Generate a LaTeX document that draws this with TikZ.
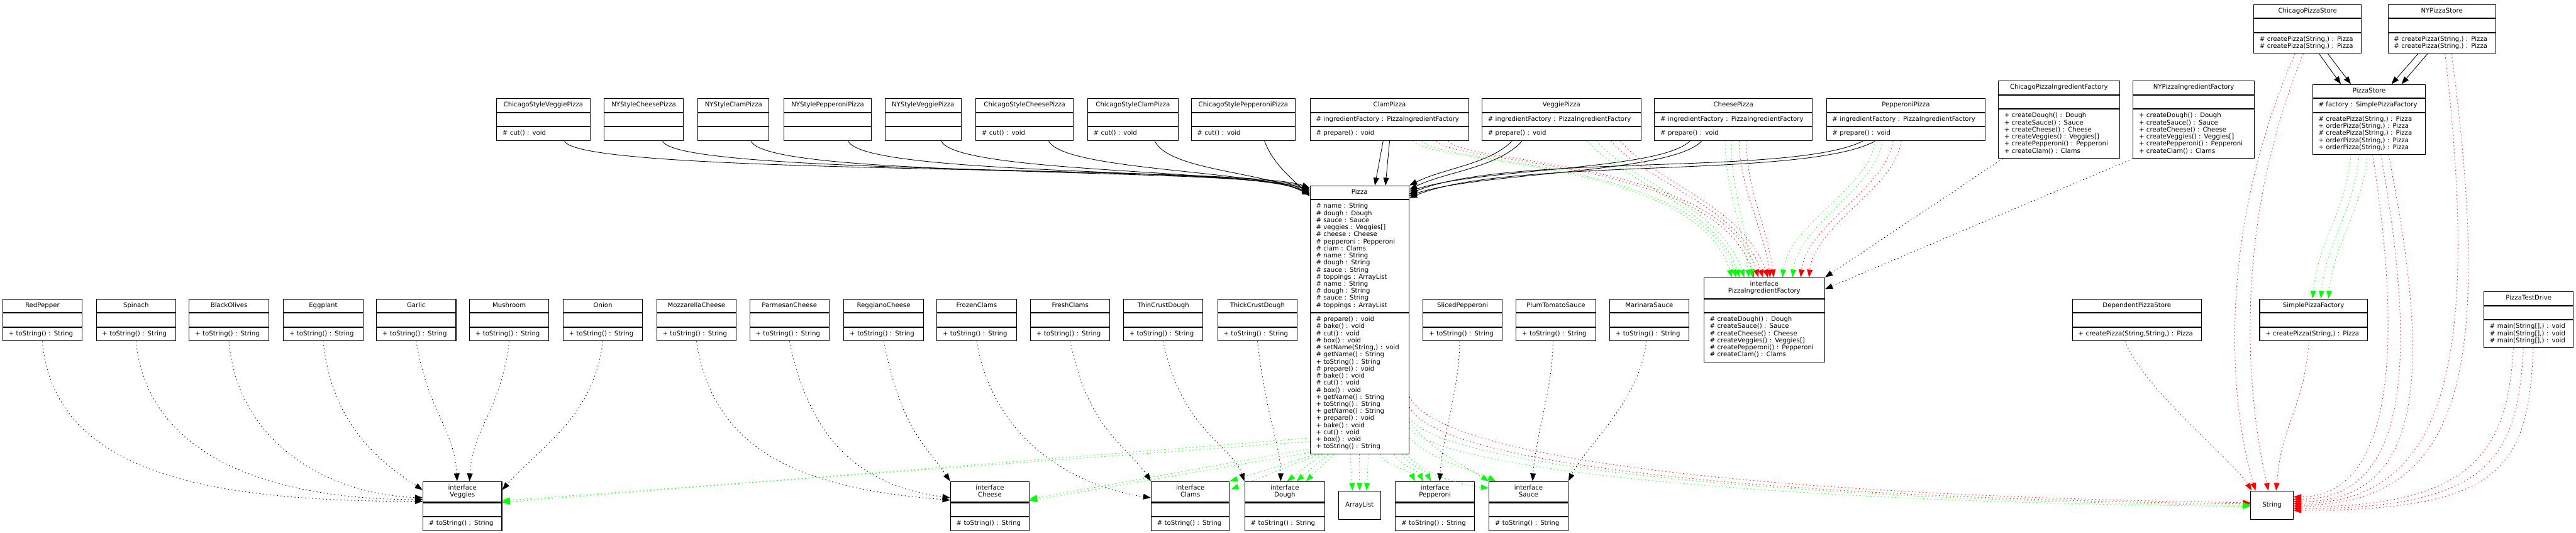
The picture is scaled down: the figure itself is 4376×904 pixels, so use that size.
\documentclass[tikz,border=0pt]{standalone}
\usepackage{fontspec}
\setmainfont{DejaVu Sans}
\usepackage{xcolor}
\usetikzlibrary{positioning, fit, calc, arrows.meta}

\definecolor{depgreen}{RGB}{0,255,0}
\definecolor{depred}{RGB}{255,0,0}

% class box: name, x, y, width, header, attributes, operations
\newcommand{\umlclass}[7]{%
  \pgfmathsetmacro{\umlwidth}{#4-20}
  \node [classhead, text width=\umlwidth pt, anchor=north west] (#1-h) at (#2,#3) {#5};
  \node [classpart, text width=\umlwidth pt, below=0pt of #1-h] (#1-a) {#6};
  \node [classpart, text width=\umlwidth pt, below=0pt of #1-a] (#1-m) {#7};
  \node [fit=(#1-h)(#1-m), inner sep=0pt] (#1) {};
}

\begin{document}
\begin{tikzpicture}[x=1pt, y=-1pt, every node/.style={font=\fontsize{10.85}{12}\selectfont},
    >={Triangle[length=13pt, width=9.5pt]}]

  \tikzstyle{classbox}=[draw, line width=1.1pt, inner xsep=10pt, inner ysep=5.5pt,
    execute at begin node=\strut, execute at end node=\strut]
  \tikzstyle{classhead}=[classbox, align=center]
  \tikzstyle{classpart}=[classbox, align=left]
  \tikzstyle{plainbox}=[draw, line width=1.1pt, minimum width=72pt, minimum height=48pt, anchor=north west]
  \tikzstyle{inherit}=[->, line width=0.9pt]
  \tikzstyle{realize}=[->, line width=0.9pt, dash pattern=on 1.6pt off 4.4pt]
  \tikzstyle{usegreen}=[realize, depgreen]
  \tikzstyle{usered}=[realize, depred]

  \useasboundingbox (0,0) rectangle (4376,904);

  % pizza subclasses
  \umlclass{csveggie}{843}{167}{159}{ChicagoStyleVeggiePizza}{}{\# cut() : void}
  \umlclass{nycheese}{1026}{167}{134}{NYStyleCheesePizza}{}{}
  \umlclass{nyclam}{1185}{167}{121}{NYStyleClamPizza}{}{}
  \umlclass{nypepperoni}{1331}{167}{149}{NYStylePepperoniPizza}{}{}
  \umlclass{nyveggie}{1503}{167}{129}{NYStyleVeggiePizza}{}{}
  \umlclass{cscheese}{1657}{167}{166}{ChicagoStyleCheesePizza}{}{\# cut() : void}
  \umlclass{csclam}{1847}{167}{154}{ChicagoStyleClamPizza}{}{\# cut() : void}
  \umlclass{cspepperoni}{2023}{167}{177}{ChicagoStylePepperoniPizza}{}{\# cut() : void}

  \umlclass{clampizza}{2225}{167}{270}{ClamPizza}{\# ingredientFactory : PizzaIngredientFactory}{\# prepare() : void}
  \umlclass{veggiepizza}{2517}{167}{270}{VeggiePizza}{\# ingredientFactory : PizzaIngredientFactory}{\# prepare() : void}
  \umlclass{cheesepizza}{2810}{167}{268}{CheesePizza}{\# ingredientFactory : PizzaIngredientFactory}{\# prepare() : void}
  \umlclass{pepperonipizza}{3102}{167}{270}{PepperoniPizza}{\# ingredientFactory : PizzaIngredientFactory}{\# prepare() : void}

  % factories and stores
  \umlclass{cpif}{3394}{137}{206}{ChicagoPizzaIngredientFactory}{}{+ createDough() : Dough\\+ createSauce() : Sauce\\+ createCheese() : Cheese\\+ createVeggies() : Veggies[]\\+ createPepperoni() : Pepperoni\\+ createClam() : Clams}
  \umlclass{nypif}{3623}{137}{206}{NYPizzaIngredientFactory}{}{+ createDough() : Dough\\+ createSauce() : Sauce\\+ createCheese() : Cheese\\+ createVeggies() : Veggies[]\\+ createPepperoni() : Pepperoni\\+ createClam() : Clams}
  \umlclass{cpstore}{3828}{7}{183}{ChicagoPizzaStore}{}{\# createPizza(String,) : Pizza\\\# createPizza(String,) : Pizza}
  \umlclass{nystore}{4056}{7}{183}{NYPizzaStore}{}{\# createPizza(String,) : Pizza\\\# createPizza(String,) : Pizza}
  \umlclass{pizzastore}{3928}{143}{192}{PizzaStore}{\# factory : SimplePizzaFactory}{\# createPizza(String,) : Pizza\\+ orderPizza(String,) : Pizza\\\# createPizza(String,) : Pizza\\+ orderPizza(String,) : Pizza\\+ orderPizza(String,) : Pizza}

  \umlclass{pizza}{2225}{315}{168}{Pizza}{\# name : String\\\# dough : Dough\\\# sauce : Sauce\\\# veggies : Veggies[]\\\# cheese : Cheese\\\# pepperoni : Pepperoni\\\# clam : Clams\\\# name : String\\\# dough : String\\\# sauce : String\\\# toppings : ArrayList\\\# name : String\\\# dough : String\\\# sauce : String\\\# toppings : ArrayList}{\# prepare() : void\\\# bake() : void\\\# cut() : void\\\# box() : void\\\# setName(String,) : void\\\# getName() : String\\+ toString() : String\\\# prepare() : void\\\# bake() : void\\\# cut() : void\\\# box() : void\\+ getName() : String\\+ toString() : String\\+ getName() : String\\+ prepare() : void\\+ bake() : void\\+ cut() : void\\+ box() : void\\+ toString() : String}

  \umlclass{pif}{2894}{471}{205}{interface\\PizzaIngredientFactory}{}{\# createDough() : Dough\\\# createSauce() : Sauce\\\# createCheese() : Cheese\\\# createVeggies() : Veggies[]\\\# createPepperoni() : Pepperoni\\\# createClam() : Clams}

  % ingredients
  \umlclass{redpepper}{4}{507}{135}{RedPepper}{}{+ toString() : String}
  \umlclass{spinach}{163}{507}{135}{Spinach}{}{+ toString() : String}
  \umlclass{blackolives}{321}{507}{135}{BlackOlives}{}{+ toString() : String}
  \umlclass{eggplant}{481}{507}{135}{Eggplant}{}{+ toString() : String}
  \umlclass{garlic}{639}{507}{135}{Garlic}{}{+ toString() : String}
  \umlclass{mushroom}{797}{507}{135}{Mushroom}{}{+ toString() : String}
  \umlclass{onion}{956}{507}{135}{Onion}{}{+ toString() : String}
  \umlclass{mozzarella}{1115}{507}{135}{MozzarellaCheese}{}{+ toString() : String}
  \umlclass{parmesan}{1273}{507}{135}{ParmesanCheese}{}{+ toString() : String}
  \umlclass{reggiano}{1433}{507}{135}{ReggianoCheese}{}{+ toString() : String}
  \umlclass{frozenclams}{1591}{507}{135}{FrozenClams}{}{+ toString() : String}
  \umlclass{freshclams}{1750}{507}{135}{FreshClams}{}{+ toString() : String}
  \umlclass{thincrust}{1908}{507}{135}{ThinCrustDough}{}{+ toString() : String}
  \umlclass{thickcrust}{2068}{507}{135}{ThickCrustDough}{}{+ toString() : String}
  \umlclass{slicedpepperoni}{2417}{507}{134}{SlicedPepperoni}{}{+ toString() : String}
  \umlclass{plumtomato}{2575}{507}{135}{PlumTomatoSauce}{}{+ toString() : String}
  \umlclass{marinara}{2734}{507}{134}{MarinaraSauce}{}{+ toString() : String}

  \umlclass{dps}{3520}{507}{219}{DependentPizzaStore}{}{+ createPizza(String,String,) : Pizza}
  \umlclass{spf}{3838}{507}{183}{SimplePizzaFactory}{}{+ createPizza(String,) : Pizza}
  \umlclass{testdrive}{4219}{495}{152}{PizzaTestDrive}{}{\# main(String[],) : void\\\# main(String[],) : void\\\# main(String[],) : void}

  % interfaces
  \umlclass{veggies}{718}{817}{134}{interface\\Veggies}{}{\# toString() : String}
  \umlclass{cheese}{1614}{817}{134}{interface\\Cheese}{}{\# toString() : String}
  \umlclass{clams}{1955}{817}{133}{interface\\Clams}{}{\# toString() : String}
  \umlclass{dough}{2114}{817}{136}{interface\\Dough}{}{\# toString() : String}
  \umlclass{pepperoni}{2370}{817}{134}{interface\\Pepperoni}{}{\# toString() : String}
  \umlclass{sauce}{2529}{817}{134}{interface\\Sauce}{}{\# toString() : String}
  \node [plainbox] (arraylist) at (2273,833) {ArrayList};
  \node [plainbox] (string) at (3823,833) {String};

  % subclasses -> Pizza
  \draw [inherit] ($(csveggie.south)+(36,0)$) .. controls +(25,60) and +(-110,-40) .. ($(pizza-h.west)+(0,-8)$);
  \draw [inherit] ($(nycheese.south)+(32,0)$) .. controls +(25,60) and +(-110,-40) .. ($(pizza-h.west)+(0,-6)$);
  \draw [inherit] ($(nyclam.south)+(30,0)$) .. controls +(25,65) and +(-110,-40) .. ($(pizza-h.west)+(0,-4)$);
  \draw [inherit] ($(nypepperoni.south)+(35,0)$) .. controls +(25,60) and +(-100,-40) .. ($(pizza-h.west)+(0,-2)$);
  \draw [inherit] ($(nyveggie.south)+(31,0)$) .. controls +(25,55) and +(-100,-40) .. (pizza-h.west);
  \draw [inherit] ($(cscheese.south)+(41,0)$) .. controls +(25,50) and +(-90,-40) .. ($(pizza-h.west)+(0,2)$);
  \draw [inherit] ($(csclam.south)+(37,0)$) .. controls +(25,50) and +(-80,-40) .. ($(pizza-h.west)+(0,4)$);
  \draw [inherit] ($(cspepperoni.south)+(36,0)$) .. controls +(15,40) and +(-30,-30) .. ($(pizza-h.west)+(0,6)$);

  \draw [inherit] ($(clampizza.south)+(-11,0)$) -- ($(pizza.north)+(26,0)$);
  \draw [inherit] (clampizza.south) -- ($(pizza.north)+(44,0)$);
  \draw [inherit] ($(veggiepizza.south)+(-84,0)$) .. controls +(-40,40) and +(60,-30) .. (pizza.north east);
  \draw [inherit] ($(veggiepizza.south)+(-67,0)$) .. controls +(-40,45) and +(60,-30) .. ($(pizza.north east)+(0,7)$);
  \draw [inherit] ($(cheesepizza.south)+(-74,0)$) .. controls +(-50,50) and +(120,-40) .. ($(pizza-h.east)+(0,-2)$);
  \draw [inherit] ($(cheesepizza.south)+(-54,0)$) .. controls +(-50,55) and +(120,-40) .. ($(pizza-h.east)+(0,5)$);
  \draw [inherit] ($(pepperonipizza.south)+(-73,0)$) .. controls +(-120,60) and +(170,-70) .. ($(pizza-h.east)+(0,2)$);
  \draw [inherit] ($(pepperonipizza.south)+(-52,0)$) .. controls +(-120,65) and +(170,-70) .. ($(pizza-h.east)+(0,9)$);

  % pizzas -> ingredient factory
  \draw [usegreen] ($(clampizza.south)+(40,0)$) .. controls +(30,40) and +(-60,-200) .. ($(pif.north)+(-55,0)$);
  \draw [usegreen] ($(clampizza.south)+(55,0)$) .. controls +(30,40) and +(-60,-200) .. ($(pif.north)+(-48,0)$);
  \draw [usered] ($(clampizza.south)+(80,0)$) .. controls +(30,40) and +(-60,-200) .. ($(pif.north)+(-18,0)$);
  \draw [usered] ($(clampizza.south)+(100,0)$) .. controls +(30,40) and +(-60,-200) .. ($(pif.north)+(-10,0)$);
  \draw [usegreen] ($(veggiepizza.south)+(44,0)$) .. controls +(60,70) and +(-40,-120) .. ($(pif.north)+(-42,0)$);
  \draw [usegreen] ($(veggiepizza.south)+(60,0)$) .. controls +(60,70) and +(-40,-120) .. ($(pif.north)+(-34,0)$);
  \draw [usered] ($(veggiepizza.south)+(84,0)$) .. controls +(60,70) and +(-40,-120) .. ($(pif.north)+(-2,0)$);
  \draw [usered] ($(veggiepizza.south)+(100,0)$) .. controls +(60,70) and +(-40,-120) .. ($(pif.north)+(6,0)$);
  \draw [usegreen] ($(cheesepizza.south)+(-14,0)$) .. controls +(0,80) and +(-10,-80) .. ($(pif.north)+(-26,0)$);
  \draw [usegreen] ($(cheesepizza.south)+(-4,0)$) .. controls +(0,80) and +(-10,-80) .. ($(pif.north)+(-20,0)$);
  \draw [usered] ($(cheesepizza.south)+(10,0)$) .. controls +(0,80) and +(-10,-80) .. ($(pif.north)+(10,0)$);
  \draw [usered] ($(cheesepizza.south)+(22,0)$) .. controls +(0,80) and +(-10,-80) .. ($(pif.north)+(16,0)$);
  \draw [usegreen] ($(pepperonipizza.south)+(-52,0)$) .. controls +(-10,80) and +(10,-90) .. ($(pif.north)+(31,0)$);
  \draw [usegreen] ($(pepperonipizza.south)+(-40,0)$) .. controls +(-10,80) and +(10,-90) .. ($(pif.north)+(48,0)$);
  \draw [usered] ($(pepperonipizza.south)+(-22,0)$) .. controls +(-10,80) and +(10,-90) .. ($(pif.north)+(62,0)$);
  \draw [usered] ($(pepperonipizza.south)+(-8,0)$) .. controls +(-10,80) and +(10,-90) .. ($(pif.north)+(76,0)$);

  \draw [realize] ($(cpif.south west)+(8,0)$) -- (pif.north east);
  \draw [realize] (nypif.south west) -- ($(pif.north east)+(0,20)$);

  % ingredients -> interfaces
  \draw [realize] (redpepper.south) .. controls +(20,230) and +(-350,0) .. ($(veggies-h.south west)+(0,-2)$);
  \draw [realize] (spinach.south) .. controls +(20,200) and +(-250,0) .. ($(veggies-h.south west)+(0,-5)$);
  \draw [realize] (blackolives.south) .. controls +(15,180) and +(-150,-5) .. ($(veggies-h.south west)+(0,-8)$);
  \draw [realize] (eggplant.south) .. controls +(15,150) and +(-60,-40) .. ($(veggies.north west)+(0,15)$);
  \draw [realize] (garlic.south) .. controls +(20,120) and +(-5,-90) .. ($(veggies.north)+(-9,0)$);
  \draw [realize] (mushroom.south) .. controls +(-15,120) and +(5,-90) .. ($(veggies.north)+(12,0)$);
  \draw [realize] (onion.south) .. controls +(-15,130) and +(60,-70) .. ($(veggies.north east)+(0,15)$);
  \draw [realize] (mozzarella.south) .. controls +(30,190) and +(-250,-20) .. ($(cheese-h.south west)+(0,-4)$);
  \draw [realize] (parmesan.south) .. controls +(35,170) and +(-150,-20) .. ($(cheese-h.south west)+(0,-8)$);
  \draw [realize] (reggiano.south) .. controls +(30,150) and +(-40,-60) .. (cheese.north west);
  \draw [realize] (frozenclams.south) .. controls +(30,170) and +(-130,-20) .. ($(clams-h.south west)+(0,-8)$);
  \draw [realize] (freshclams.south) .. controls +(30,150) and +(-40,-60) .. (clams.north west);
  \draw [realize] (thincrust.south) .. controls +(30,150) and +(-20,-60) .. (dough.north west);
  \draw [realize] (thickcrust.south) .. controls +(15,130) and +(0,-60) .. ($(dough.north)+(-7,0)$);
  \draw [realize] ($(slicedpepperoni.south)+(-5,0)$) .. controls +(0,80) and +(5,-80) .. ($(pepperoni.north)+(8,0)$);
  \draw [realize] ($(plumtomato.south)+(-5,0)$) .. controls +(0,80) and +(5,-80) .. ($(sauce.north)+(7,0)$);
  \draw [realize] ($(marinara.south)+(-5,0)$) .. controls +(-10,100) and +(30,-60) .. (sauce.north east);

  % Pizza -> its field types
  \draw [usegreen] ($(pizza.south west)+(0,-28)$) -- (veggies-h.south east);
  \draw [usegreen] ($(pizza.south west)+(0,-22)$) -- ($(veggies-h.south east)+(0,-3)$);
  \draw [usegreen] ($(pizza.south west)+(2,-10)$) -- ($(cheese-h.south east)+(0,-6)$);
  \draw [usegreen] ($(pizza.south west)+(4,-4)$) -- ($(cheese-h.south east)+(0,-3)$);
  \draw [usegreen] ($(pizza.south west)+(10,0)$) -- (clams.north east);
  \draw [usegreen] ($(pizza.south west)+(16,0)$) -- ($(clams.north east)+(2,14)$);
  \draw [usegreen] ($(pizza.south)+(-64,0)$) -- ($(dough.north)+(4,0)$);
  \draw [usegreen] ($(pizza.south)+(-54,0)$) -- ($(dough.north)+(20,0)$);
  \draw [usegreen] ($(pizza.south)+(-44,0)$) -- ($(dough.north)+(36,0)$);
  \draw [usegreen] ($(pizza.south)+(-16,0)$) -- ($(arraylist.north)+(-12,0)$);
  \draw [usegreen] (pizza.south) -- (arraylist.north);
  \draw [usegreen] ($(pizza.south)+(15,0)$) -- ($(arraylist.north)+(12,0)$);
  \draw [usegreen] ($(pizza.south)+(35,0)$) .. controls +(10,20) and +(-10,-20) .. ($(pepperoni.north)+(-34,0)$);
  \draw [usegreen] ($(pizza.south)+(59,0)$) .. controls +(10,20) and +(-10,-20) .. ($(pepperoni.north)+(-20,0)$);
  \draw [usegreen] ($(pizza.south)+(73,0)$) .. controls +(10,20) and +(-10,-20) .. ($(pepperoni.north)+(-7,0)$);
  \draw [usegreen] ($(pizza.south east)+(0,-55)$) .. controls +(40,50) and +(-40,-25) .. (sauce.north west);
  \draw [usegreen] ($(pizza.south east)+(0,-28)$) .. controls +(40,40) and +(-40,-20) .. ($(sauce.north west)+(12,0)$);
  \draw [usegreen] ($(pizza.south east)+(-6,0)$) .. controls +(40,40) and +(-40,-5) .. ($(sauce.north west)+(0,12)$);
  \draw [usered] ($(pizza.south east)+(0,-98)$) .. controls +(60,120) and +(-700,-10) .. ($(string.west)+(0,-4)$);
  \draw [usered] ($(pizza.south east)+(0,-80)$) .. controls +(60,110) and +(-700,-8) .. ($(string.west)+(0,-2)$);
  \draw [usegreen] ($(pizza.south east)+(0,-62)$) .. controls +(60,90) and +(-700,-6) .. (string.west);
  \draw [usegreen] ($(pizza.south east)+(0,-45)$) .. controls +(60,80) and +(-700,-4) .. ($(string.west)+(0,2)$);

  % stores
  \draw [inherit] ($(cpstore.south)+(19.5,0)$) -- ($(pizzastore.north)+(-48,0)$);
  \draw [inherit] ($(cpstore.south)+(34.5,0)$) -- ($(pizzastore.north)+(-31,0)$);
  \draw [inherit] ($(nystore.south)+(-40.5,0)$) -- ($(pizzastore.north)+(38,0)$);
  \draw [inherit] ($(nystore.south)+(-24.5,0)$) -- ($(pizzastore.north)+(55,0)$);

  \draw [usegreen] ($(pizzastore.south)+(-31,0)$) .. controls +(-10,100) and +(10,-100) .. ($(spf.north)+(-1.5,0)$);
  \draw [usegreen] ($(pizzastore.south)+(-17,0)$) .. controls +(-10,100) and +(10,-100) .. ($(spf.north)+(12.5,0)$);
  \draw [usegreen] ($(pizzastore.south)+(-3,0)$) .. controls +(-10,100) and +(10,-100) .. ($(spf.north)+(25.5,0)$);

  \draw [usered] ($(pizzastore.south)+(6,0)$) .. controls +(60,380) and +(150,0) .. ($(string.east)+(0,-14)$);
  \draw [usered] ($(pizzastore.south)+(20,0)$) .. controls +(70,390) and +(180,0) .. ($(string.east)+(0,-10)$);
  \draw [usered] ($(pizzastore.south)+(33,0)$) .. controls +(80,400) and +(210,0) .. ($(string.east)+(0,-6)$);
  \draw [usered] ($(nystore.south)+(5.5,0)$) .. controls +(60,520) and +(260,0) .. ($(string.east)+(0,-3)$);
  \draw [usered] ($(nystore.south)+(16.5,0)$) .. controls +(70,530) and +(290,0) .. (string.east);
  \draw [usered] ($(testdrive.south)+(-26,0)$) .. controls +(-10,180) and +(300,0) .. ($(string.east)+(0,3)$);
  \draw [usered] ($(testdrive.south)+(-9,0)$) .. controls +(-10,190) and +(330,0) .. ($(string.east)+(0,6)$);
  \draw [usered] ($(testdrive.south)+(8,0)$) .. controls +(-10,200) and +(360,0) .. ($(string.east)+(0,9)$);
  \draw [usered] ($(cpstore.south)+(-21.5,0)$) .. controls +(-140,320) and +(-40,-130) .. ($(string.north)+(-28,0)$);
  \draw [usered] ($(cpstore.south)+(-7.5,0)$) .. controls +(-130,320) and +(-30,-130) .. ($(string.north)+(-6,0)$);
  \draw [usered] ($(spf.south)+(-7.5,0)$) .. controls +(-10,120) and +(10,-120) .. ($(string.north)+(7,0)$);
  \draw [usered] ($(dps.south)+(-20,0)$) .. controls +(30,80) and +(-30,-50) .. ($(string.north west)+(2,0)$);

\end{tikzpicture}
\end{document}
